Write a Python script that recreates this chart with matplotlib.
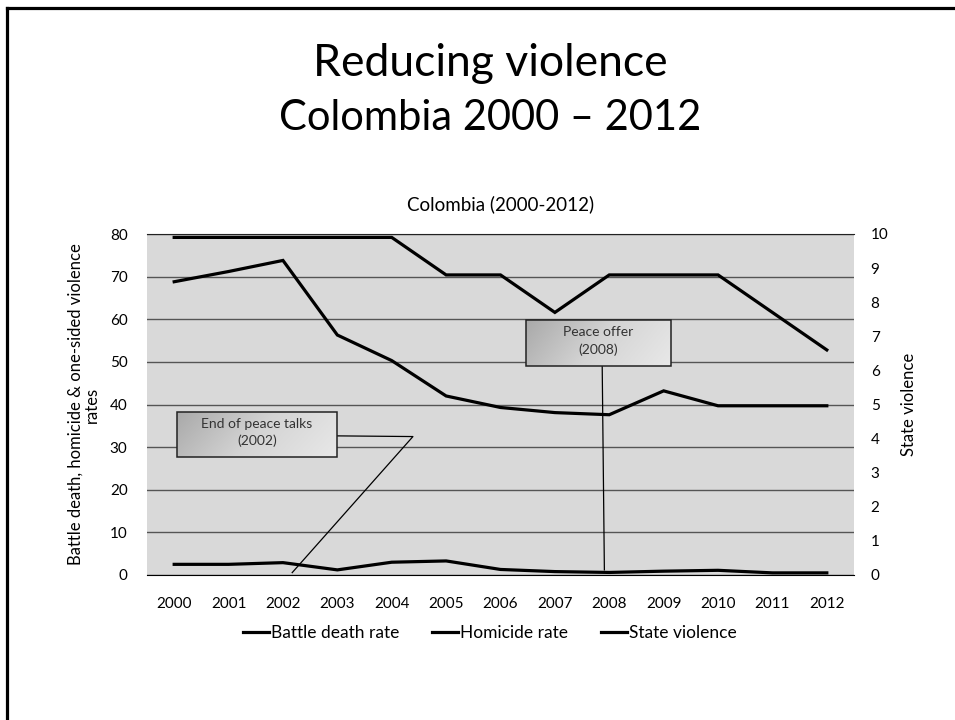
import matplotlib
matplotlib.use("Agg")

import matplotlib.pyplot as plt
import numpy as np
from matplotlib.colors import LinearSegmentedColormap
from matplotlib.lines import Line2D
from matplotlib.patches import Rectangle

plt.rcParams["font.family"] = ["Lato", "DejaVu Sans"]

# --- data ---
years = ["2000", "2001", "2002", "2003", "2004", "2005", "2006",
         "2007", "2008", "2009", "2010", "2011", "2012"]
battle_death = [2.5, 2.5, 2.9, 1.2, 3.0, 3.3, 1.3, 0.8, 0.6, 0.9, 1.1, 0.5, 0.5]
homicide = [68.8, 71.2, 73.8, 56.3, 50.3, 42.0, 39.3, 38.1, 37.6, 43.2, 39.7, 39.7, 39.7]
state_violence = [9.9, 9.9, 9.9, 9.9, 9.9, 8.8, 8.8, 7.7, 8.8, 8.8, 8.8, 7.7, 6.6]

left_ticks = list(range(0, 81, 10))
right_ticks = list(range(0, 11))

fig = plt.figure(figsize=(9.55, 7.2), dpi=100)

# slide frame (top and left edges)
fig.add_artist(Line2D([7 / 955, 1], [1 - 8 / 720, 1 - 8 / 720], color="black", lw=2.3))
fig.add_artist(Line2D([7 / 955, 7 / 955], [0, 1 - 8 / 720], color="black", lw=2.3))

fig.text(0.513, 1 - 63 / 720, "Reducing violence", ha="center", va="center",
         fontsize=32, color="black")
fig.text(0.513, 1 - 118 / 720, "Colombia 2000 \u2013 2012", ha="center", va="center",
         fontsize=30, color="black")

ax = fig.add_axes([147 / 955, 1 - 575 / 720, (854 - 147) / 955, (575 - 234) / 720])
ax2 = ax.twinx()

x = np.arange(len(years))
ax.set_facecolor("#d9d9d9")
ax.set_axisbelow(True)
ax.yaxis.grid(True, color="#555555", lw=1)
ax.plot(x, battle_death, color="black", lw=2.3, solid_joinstyle="miter")
ax.plot(x, homicide, color="black", lw=2.3, solid_joinstyle="miter")
ax2.plot(x, state_violence, color="black", lw=2.3, solid_joinstyle="miter")

ax.set_xlim(-0.5, len(years) - 0.5)
ax.set_ylim(0, 80)
ax2.set_ylim(0, 10)
ax.set_xticks(x)
ax.set_xticklabels(years)
ax.set_yticks(left_ticks)
ax2.set_yticks(right_ticks)

for a in (ax, ax2):
    a.tick_params(length=0, labelsize=11, colors="black")
    for s in ("left", "right", "top", "bottom"):
        a.spines[s].set_visible(False)
ax.spines["bottom"].set_visible(True)
ax.spines["bottom"].set_color("black")
ax.spines["top"].set_visible(True)
ax.spines["top"].set_color("#222222")
ax.tick_params(axis="x", pad=16)
ax.tick_params(axis="y", pad=14)
ax2.tick_params(axis="y", pad=12)

ax.set_ylabel("Battle death, homicide & one-sided violence\nrates", fontsize=12,
              linespacing=1.05, labelpad=7)
ax2.set_ylabel("State violence", fontsize=12, labelpad=9)
ax.set_title("Colombia (2000-2012)", fontsize=13.5, pad=17)

# gradient callout boxes (right-axis units)
box_cmap = LinearSegmentedColormap.from_list("box", ["#a9a9a9", "#d4d4d4", "#e8e8e8"])
grad = np.linspace(0, 1, 256).reshape(1, -1) * 0.8
grad = grad + 0.2 * np.linspace(0, 1, 32).reshape(-1, 1)


def callout(x0, x1, y0, y1, label, path_x, path_y):
    img = ax2.imshow(grad, cmap=box_cmap, vmin=0, vmax=1, aspect="auto",
                     extent=(x0, x1, y0, y1), origin="upper", zorder=5,
                     interpolation="bilinear")
    rect = Rectangle((x0, y0), x1 - x0, y1 - y0, fill=False, ec="#222222",
                     lw=1.1, zorder=6)
    ax2.add_patch(rect)
    img.set_clip_path(rect)
    ax2.text((x0 + x1) / 2, (y0 + y1) / 2 + 0.05, label, ha="center", va="center",
             fontsize=10, color="#333333", linespacing=1.45, zorder=7)
    ax2.plot(path_x, path_y, color="black", lw=0.9, zorder=4)


callout(0.05, 2.99, 3.46, 4.79, "End of peace talks\n(2002)",
        [2.99, 4.39, 2.17], [4.08, 4.06, 0.07])
callout(6.47, 9.13, 6.14, 7.49, "Peace offer\n(2008)",
        [7.87, 7.91], [6.14, 0.15])

ax.set_xlim(-0.5, len(years) - 0.5)
ax2.set_ylim(0, 10)

handles = [Line2D([], [], color="black", lw=2.3) for _ in range(3)]
fig.legend(handles, ["Battle death rate", "Homicide rate", "State violence"],
           loc="center", bbox_to_anchor=(490 / 955, 1 - 633 / 720), ncol=3,
           frameon=False, fontsize=12.5, handlelength=1.5, handletextpad=0.1,
           columnspacing=1.9)

fig.savefig("out.png", dpi=100)
